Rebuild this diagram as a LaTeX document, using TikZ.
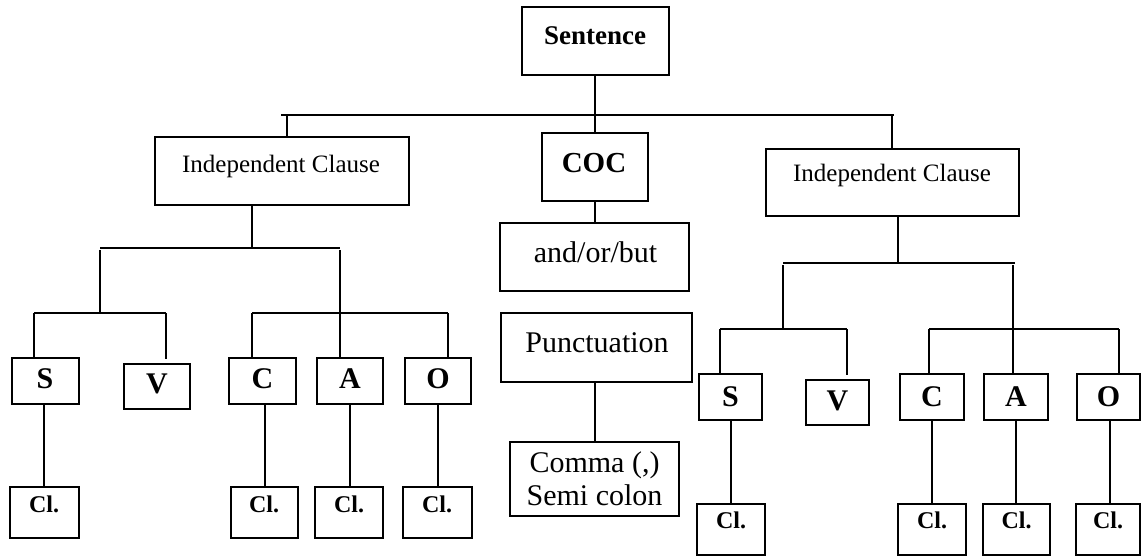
\documentclass[tikz,border=0pt]{standalone}
\usepackage{fontspec}
\setmainfont{Liberation Serif}
\begin{document}
\begin{tikzpicture}[x=1pt,y=-1pt,
  every path/.style={line width=2pt},
  conn/.style={line width=2pt},
  box/.style={draw,inner sep=0pt,line width=2pt},
  txt/.style={anchor=base,inner sep=0pt},
  ic/.style={txt,font=\fontsize{25}{30}\selectfont},
  big/.style={txt,font=\fontsize{30}{33}\selectfont},
  lett/.style={txt,font=\fontsize{30}{32}\selectfont\bfseries},
  cl/.style={txt,font=\fontsize{24}{26}\selectfont\bfseries}]
\useasboundingbox (0,0) rectangle (1147,556);
% ---------- boxes ----------
\node[box,minimum width=147pt,minimum height=68pt] (sent) at (595.5,41) {};
\node[box,minimum width=254pt,minimum height=68pt] (icL) at (282,171) {};
\node[box,minimum width=106pt,minimum height=68pt] (coc) at (595,167) {};
\node[box,minimum width=189pt,minimum height=68pt] (aob) at (594.5,257) {};
\node[box,minimum width=253pt,minimum height=67pt] (icR) at (892.5,182.5) {};
\node[box,minimum width=191pt,minimum height=69pt] (punc) at (596.5,347.5) {};
\node[box,minimum width=169pt,minimum height=74pt] (comma) at (594.5,479) {};
% left letters
\node[box,minimum width=67pt,minimum height=46pt] (lS) at (45.5,381) {};
\node[box,minimum width=66pt,minimum height=45pt] (lV) at (157,386.5) {};
\node[box,minimum width=67pt,minimum height=46pt] (lC) at (262.5,381) {};
\node[box,minimum width=66pt,minimum height=46pt] (lA) at (350,381) {};
\node[box,minimum width=66pt,minimum height=46pt] (lO) at (438,381) {};
\node[box,minimum width=69pt,minimum height=51pt] (lSc) at (44.5,512.5) {};
\node[box,minimum width=67pt,minimum height=51pt] (lCc) at (264.5,512.5) {};
\node[box,minimum width=68pt,minimum height=51pt] (lAc) at (349,512.5) {};
\node[box,minimum width=69pt,minimum height=51pt] (lOc) at (437.5,512.5) {};
% right letters
\node[box,minimum width=63pt,minimum height=46pt] (rS) at (730.5,397) {};
\node[box,minimum width=63pt,minimum height=45pt] (rV) at (837.5,402.5) {};
\node[box,minimum width=64pt,minimum height=46pt] (rC) at (932,397) {};
\node[box,minimum width=64pt,minimum height=46pt] (rA) at (1016,397) {};
\node[box,minimum width=63pt,minimum height=46pt] (rO) at (1108.5,397) {};
\node[box,minimum width=68pt,minimum height=51pt] (rSc) at (731,529.5) {};
\node[box,minimum width=68pt,minimum height=51pt] (rCc) at (932,529.5) {};
\node[box,minimum width=67pt,minimum height=51pt] (rAc) at (1016.5,529.5) {};
\node[box,minimum width=64pt,minimum height=51pt] (rOc) at (1108,529.5) {};
% ---------- texts ----------
\node[txt,font=\fontsize{27}{30}\selectfont\bfseries] (tsent) at (595,45) {Sentence};
\node[ic] (ticL) at (281,172) {Independent Clause};
\node[txt,font=\fontsize{29}{32}\selectfont\bfseries] (tcoc) at (594,172) {COC};
\node[ic] (ticR) at (892,182) {Independent Clause};
\node[big] (taob) at (595.5,262) {and/or/but};
\node[big] (tpunc) at (597,352) {Punctuation};
\node[big] (tcomma1) at (594.5,472) {Comma (,)};
\node[big] (tcomma2) at (594.5,505) {Semi colon};
\node[lett] (tlS) at (45,388) {S};
\node[lett] (tlV) at (157,393) {V};
\node[lett] (tlC) at (262.5,388) {C};
\node[lett] (tlA) at (350,388) {A};
\node[lett] (tlO) at (438,388) {O};
\node[cl] (tlSc) at (44,512) {Cl.};
\node[cl] (tlCc) at (264,512) {Cl.};
\node[cl] (tlAc) at (349,512) {Cl.};
\node[cl] (tlOc) at (437,512) {Cl.};
\node[lett] (trS) at (730.5,406) {S};
\node[lett] (trV) at (837.5,410) {V};
\node[lett] (trC) at (932,406) {C};
\node[lett] (trA) at (1016,406) {A};
\node[lett] (trO) at (1108.5,406) {O};
\node[cl] (trSc) at (731,528) {Cl.};
\node[cl] (trCc) at (932,528) {Cl.};
\node[cl] (trAc) at (1016.5,528) {Cl.};
\node[cl] (trOc) at (1108,528) {Cl.};
% ---------- junction coordinates ----------
\coordinate (barL) at (281,115);
\coordinate (barR) at (894,115);
\coordinate (jL) at (287,115);
\coordinate (jR) at (892,115);
\coordinate (jC) at (595,115);
% left sub-tree
\coordinate (lbL) at (100,248);
\coordinate (lbR) at (340,248);
\coordinate (lIC) at (252,205);
\coordinate (lsvL) at (34,313);
\coordinate (lsvR) at (166,313);
\coordinate (lVend) at (166,359);
\coordinate (lcaoL) at (252,313);
\coordinate (lcaoR) at (448,313);
% right sub-tree
\coordinate (rbL) at (783,263);
\coordinate (rbR) at (1015,263);
\coordinate (rIC) at (898,216);
\coordinate (rsvL) at (720,329);
\coordinate (rsvR) at (847,329);
\coordinate (rVend) at (847,375);
\coordinate (rcaoL) at (929,329);
\coordinate (rcaoR) at (1119,329);
% ---------- connectors ----------
\draw[conn] (jC |- sent.south) -- (jC |- coc.north);
\draw[conn] (barL) -- (barR);
\draw[conn] (jL) -- (jL |- icL.north);
\draw[conn] (jR) -- (jR |- icR.north);
\draw[conn] (jC |- coc.south) -- (jC |- aob.north);
\draw[conn] (jC |- punc.south) -- (jC |- comma.north);
% left
\draw[conn] (lIC) -- (lIC |- lbL);
\draw[conn] (lbL) -- (lbR);
\draw[conn] ([yshift=-2pt]lbL) -- (lbL |- lsvL);
\draw[conn] (lsvL) -- (lsvR);
\draw[conn] (lsvL) -- (lsvL |- lS.north);
\draw[conn] (lsvR) -- (lVend);
\draw[conn] ([yshift=-2pt]lbR) -- (lbR |- lA.north);
\draw[conn] (lcaoL) -- (lcaoR);
\draw[conn] (lcaoL) -- (lcaoL |- lC.north);
\draw[conn] (lcaoR) -- (lcaoR |- lO.north);
\draw[conn] (lS.south -| 44,0) -- (lSc.north -| 44,0);
\draw[conn] (lC.south -| 265,0) -- (lCc.north -| 265,0);
\draw[conn] (lA.south) -- (lAc.north -| lA.south);
\draw[conn] (lO.south) -- (lOc.north -| lO.south);
% right
\draw[conn] (rIC) -- (rIC |- rbL);
\draw[conn] (rbL) -- (rbR);
\draw[conn] ([yshift=-2pt]rbL) -- (rbL |- rsvL);
\draw[conn] (rsvL) -- (rsvR);
\draw[conn] (rsvL) -- (rsvL |- rS.north);
\draw[conn] (rsvR) -- (rVend);
\draw[conn] ([yshift=-2pt,xshift=-2pt]rbR) -- ([xshift=-2pt]rbR |- rA.north);
\draw[conn] (rcaoL) -- (rcaoR);
\draw[conn] (rcaoL) -- (rcaoL |- rC.north);
\draw[conn] (rcaoR) -- (rcaoR |- rO.north);
\draw[conn] (rS.south -| 731,0) -- (rSc.north -| 731,0);
\draw[conn] (rC.south) -- (rCc.north -| rC.south);
\draw[conn] (rA.south) -- (rAc.north -| rA.south);
\draw[conn] (rO.south -| 1110,0) -- (rOc.north -| 1110,0);
\end{tikzpicture}
\end{document}
